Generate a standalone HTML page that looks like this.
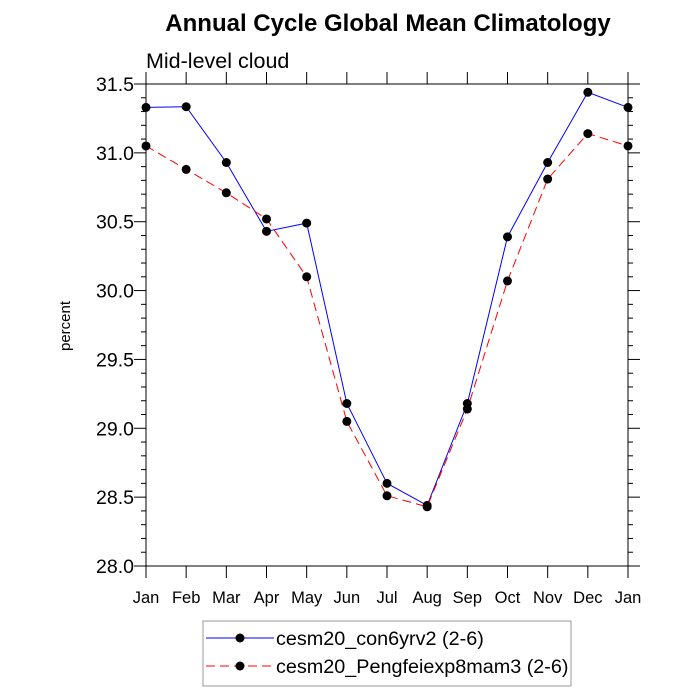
<!DOCTYPE html>
<html><head><meta charset="utf-8"><style>body{margin:0;background:#fff}svg{display:block;font-family:"Liberation Sans",sans-serif}</style></head>
<body>
<svg id="chart" width="700" height="700" xmlns="http://www.w3.org/2000/svg"></svg>
<script>
const categories=["Jan","Feb","Mar","Apr","May","Jun","Jul","Aug","Sep","Oct","Nov","Dec","Jan"];
const seriesA=[31.33,31.335,30.93,30.43,30.49,29.18,28.60,28.44,29.18,30.39,30.93,31.44,31.33];
const seriesB=[31.05,30.88,30.71,30.52,30.10,29.05,28.51,28.43,29.14,30.07,30.81,31.14,31.05];
const yTicks=["28.0","28.5","29.0","29.5","30.0","30.5","31.0","31.5"];
const svg=document.getElementById('chart');const NS="http://www.w3.org/2000/svg";
const L=146,R=628,T=84,B=566,ymin=28,ymax=31.5;
const xs=i=>L+i*(R-L)/(categories.length-1);
const ys=v=>B-(v-ymin)/(ymax-ymin)*(B-T);
function mk(t,a,p){const e=document.createElementNS(NS,t);for(const k in a)e.setAttribute(k,a[k]);(p||svg).appendChild(e);return e;}
function txt(x,y,s,a,p){const e=mk('text',Object.assign({x:x,y:y},a),p);e.textContent=s;return e;}
let e;
e=txt(388,31,"Annual Cycle Global Mean Climatology",{"font-size":24,"font-weight":"bold","text-anchor":"middle"});

e=txt(146,68,"Mid-level cloud",{"font-size":21.5});

e=txt(0,0,"percent",{"font-size":15,"text-anchor":"middle",transform:"translate(70,326) rotate(-90)"});

e=mk('rect',{x:L,y:T,width:R-L,height:B-T,fill:"none",stroke:"#000","stroke-width":1});

for(let v=0;v<=35;v++){const val=ymin+v*0.1;const y=ys(val);const major=v%5==0;const len=major?12:5;
 mk('line',{x1:L-len,x2:L,y1:y,y2:y,stroke:"#000"});mk('line',{x1:R,x2:R+len,y1:y,y2:y,stroke:"#000"});}
yTicks.forEach(s=>{e=txt(L-12,ys(parseFloat(s))+7,s,{"font-size":19.5,"text-anchor":"end"});
});
categories.forEach((c,i)=>{const x=xs(i);mk('line',{x1:x,x2:x,y1:B,y2:B+12,stroke:"#000"});mk('line',{x1:x,x2:x,y1:T-12,y2:T,stroke:"#000"});
 e=txt(x,603,c,{"font-size":16.5,"text-anchor":"middle"});});
function series(d,col,dash,name){const g=mk('g',{});
 mk('polyline',{points:d.map((v,i)=>xs(i)+","+ys(v)).join(" "),fill:"none",stroke:col,"stroke-width":1,"stroke-dasharray":dash},g);
 d.forEach((v,i)=>{const c=mk('circle',{cx:xs(i),cy:ys(v),r:4.5,fill:"#000"},g);});}
series(seriesA,"#0000ff","none","series-con6yrv2");
series(seriesB,"#ff0000","9,5","series-pengfeiexp8mam3");
const lg=mk('g',{});
mk('rect',{x:203,y:621,width:368,height:65,fill:"#fff",stroke:"#999"},lg);
[["cesm20_con6yrv2 (2-6)","#0000ff","none",638],["cesm20_Pengfeiexp8mam3 (2-6)","#ff0000","9,5",666]].forEach(r=>{
 const g=mk('g',{},lg);
 mk('line',{x1:206,x2:274,y1:r[3],y2:r[3],stroke:r[1],"stroke-dasharray":r[2]},g);
 mk('circle',{cx:240,cy:r[3],r:4.5,fill:"#000"},g);
 txt(276,r[3]+7,r[0],{"font-size":19.8},g);});
</script>
</body></html>
